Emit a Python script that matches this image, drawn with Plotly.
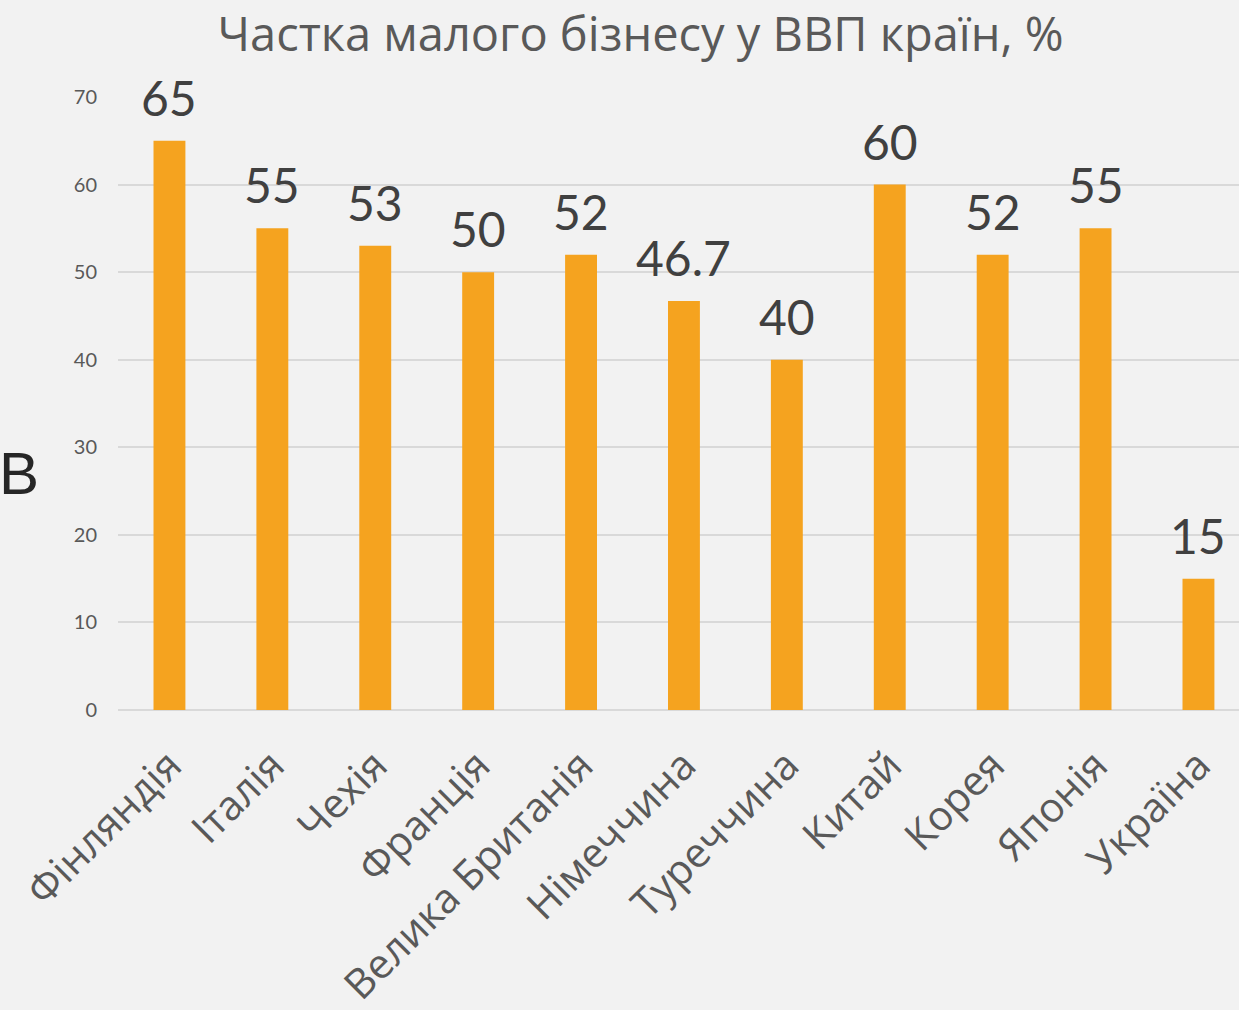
import plotly.graph_objects as go

countries = ["Фінляндія", "Італія", "Чехія", "Франція", "Велика Британія", "Німеччина",
             "Туреччина", "Китай", "Корея", "Японія", "Україна"]
values = [65, 55, 53, 50, 52, 46.7, 40, 60, 52, 55, 15]
value_labels = ["65", "55", "53", "50", "52", "46.7", "40", "60", "52", "55", "15"]
y_ticks = [0, 10, 20, 30, 40, 50, 60, 70]

fig = go.Figure()
fig.add_trace(go.Bar(
    x=countries, y=values,
    marker=dict(color="#f5a31f", line=dict(width=0)),
    width=0.31,
))

for c, v, t in zip(countries, values, value_labels):
    fig.add_annotation(x=c, y=v, text=t, showarrow=False, yanchor="bottom",
                       yshift=13, font=dict(family="Lato", size=48, color="#404040"))

fig.add_annotation(xref="paper", yref="paper", x=-0.108, y=0.385, text="B",
                   showarrow=False, xanchor="left",
                   font=dict(family="Liberation Sans", size=60, color="#262626"))

fig.update_layout(
    width=1239, height=1010,
    paper_bgcolor="#f2f2f2", plot_bgcolor="#f2f2f2",
    margin=dict(l=118, r=0, t=97, b=300),
    title=dict(text="Частка малого бізнесу у ВВП країн, %", x=0.517, xanchor="center",
               y=0.966, yanchor="middle",
               font=dict(family="Open Sans", size=47, color="#595959")),
    showlegend=False,
    bargap=0.69,
)
fig.update_yaxes(range=[0, 70], tickvals=y_ticks, showgrid=True, gridcolor="#d9d9d9",
                 gridwidth=2, zeroline=True, zerolinecolor="#d9d9d9", zerolinewidth=2,
                 tickfont=dict(family="Lato", size=20, color="#595959"), ticks="",
                 ticklabelstandoff=20, showline=False)
fig.update_xaxes(range=[-0.5, 10.394], tickangle=-45,
                 tickfont=dict(family="Open Sans", size=41, color="#595959"),
                 showline=False, ticks="", ticklabelstandoff=22)

fig.write_html("out.html")
